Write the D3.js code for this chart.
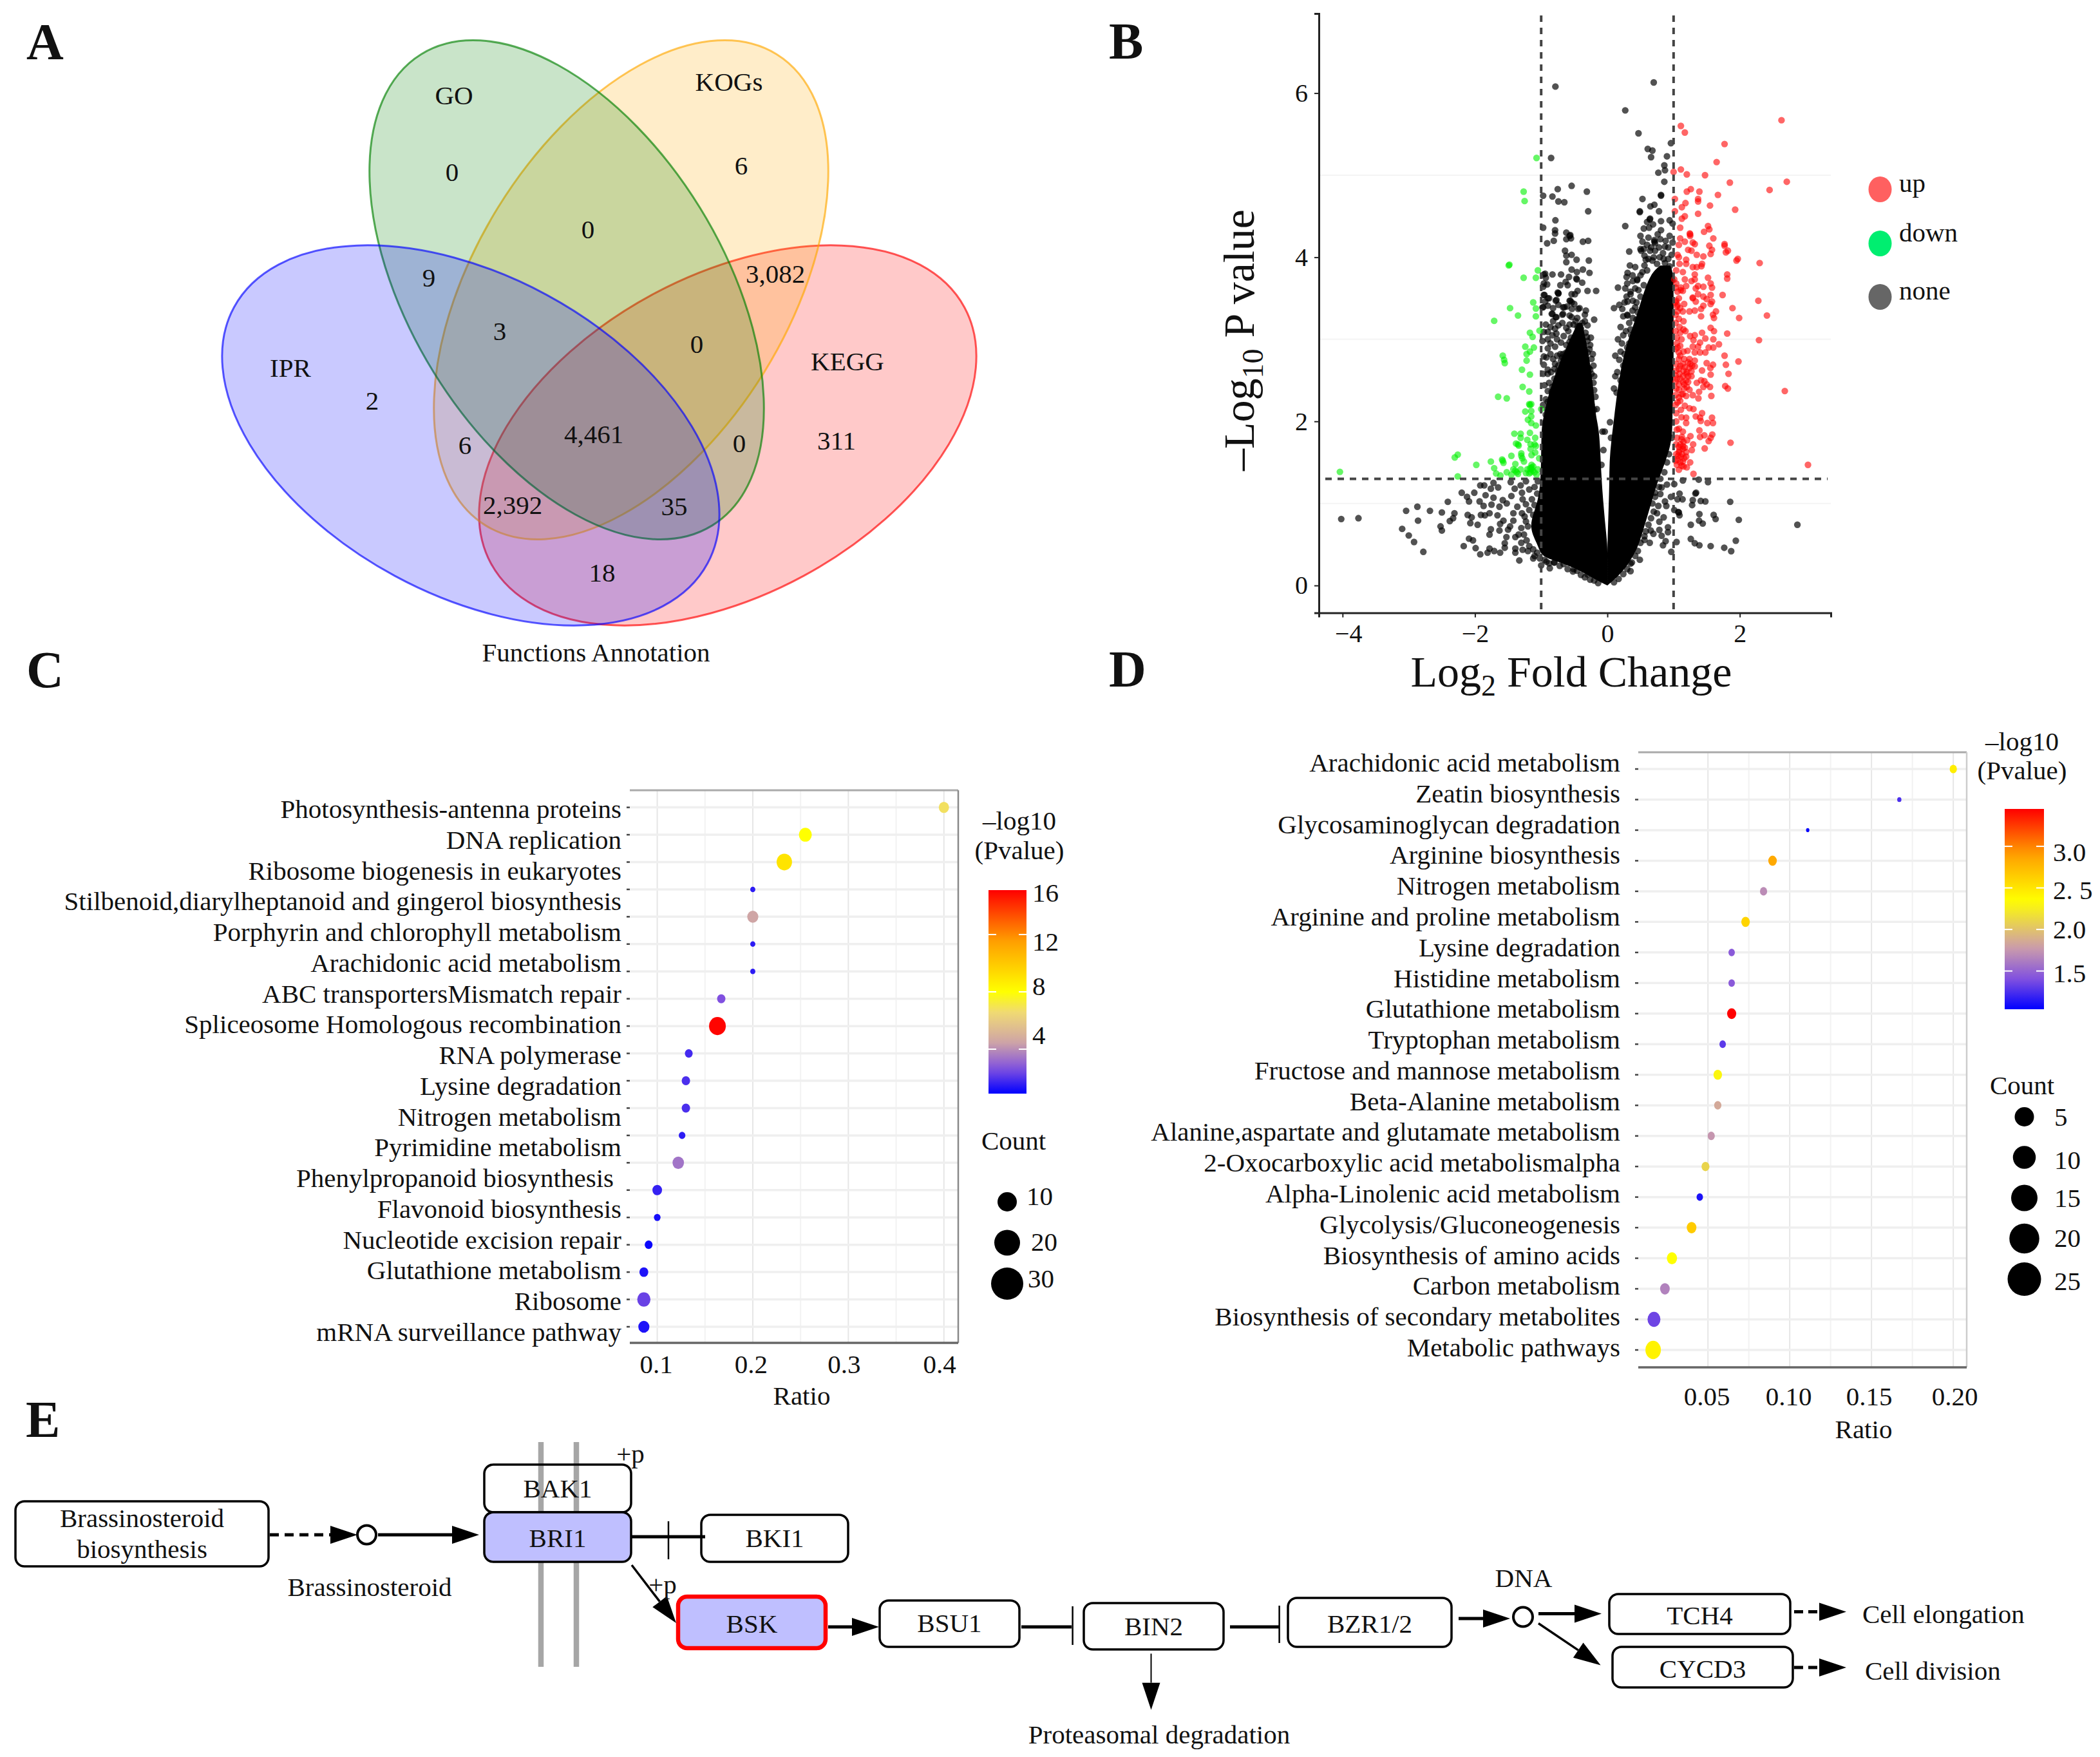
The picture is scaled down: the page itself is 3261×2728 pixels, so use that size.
<!DOCTYPE html>
<html><head><meta charset="utf-8">
<script src="https://cdn.jsdelivr.net/npm/d3@7"></script>
<style>html,body{margin:0;padding:0;background:#fff}svg{display:block}text{font-family:"Liberation Serif",serif;fill:#111}</style>
</head><body><svg id="c" width="3261" height="2728"></svg>
<script>
// ---------- Panel A data
const vennSets = ["KEGG","KOGs","GO","IPR"];
const vennCounts = ["0","6","0","3,082","9","3","0","2","6","4,461","0","311","2,392","35","18"];
// ---------- Panel B data: [log2FC, -log10P]
const volcanoNone = [[-.785,6.08],[.70,6.13],[.27,5.79],[.47,5.51],[.96,5.39],[.61,5.32],[.68,5.30],[.66,5.22],[.90,5.23],[-.85,5.21],[.86,5.12],[.87,5.06],[.77,5.03],[.86,4.92],[-.54,4.87],[-.75,4.83],[-.31,4.80],[-.97,4.75],[-.83,4.74],[-.74,4.68],[-.65,4.67],[-.29,4.56],[-.785,4.45],[.81,4.76],[.81,4.75],[.53,4.71],[.71,4.64],[.65,4.62],[.49,4.56],[.49,4.55],[.78,4.56],[.27,4.38],[-.97,4.36],[-.79,4.33],[-.79,4.29],[-.62,4.30],[-.57,4.26],[-.56,4.27],[-.62,4.22],[-.55,4.23],[-.81,4.20],[-.91,4.17],[-.37,4.19],[-.29,4.20],[-.64,4.08],[-.54,4.03],[-.62,4.02],[-.465,3.97],[-.28,3.96],[-.62,3.94],[-.54,3.85],[-.37,3.85],[-.46,3.82],[-.27,3.81],[-.94,3.80],[-.83,3.79],[-.70,3.79],[-.58,3.76],[-.93,3.75],[-.46,3.73],[-.47,3.74],[-.38,3.69],[-.91,3.67],[-.71,3.66],[-.60,3.66],[-.63,3.70],[-.97,3.64],[-.30,3.59],[-.17,3.59],[-.45,3.59],[-.75,3.57],[-.74,3.56],[-.95,3.54],[-.54,3.55],[-.88,3.50],[-.78,3.47],[-.57,3.47],[-.94,3.46],[-.54,3.45],[-.97,3.39],[-.65,3.39],[-.42,3.38],[-.325,3.35],[-.535,3.37],[-.84,3.31],[-.68,3.30],[-.57,3.29],[-.34,3.30],[-.78,3.27],[-.20,3.24],[-.455,3.26],
[.645,4.47],[.64,4.46],[.60,4.43],[.69,4.40],[.81,4.44],[.94,4.45],[.985,4.41],[.55,4.35],[.63,4.36],[.81,4.33],[.50,4.26],[.94,4.26],[.71,4.19],[.72,4.17],[.71,4.21],[.985,4.18],[.53,4.19],[.50,4.10],[.51,4.08],[.33,4.07],[.87,4.13],[.645,4.08],[.84,4.05],[.56,4.02],[.68,3.96],[.79,4.00],[.58,3.97],[.97,4.03],[.34,3.90],[.42,3.88],[.87,3.93],[.94,3.89],[.305,3.81],[.29,3.76],[.385,3.71],[.45,3.73],[.53,3.82],[.16,3.63],[.27,3.62],[.35,3.58],[.29,3.52],[.305,3.46],[.385,3.47],[.42,3.39],[.18,3.42],[.10,3.38],[.225,3.37],[.305,3.29],[.385,3.26],[.47,3.60],[.44,3.45],[.46,3.33],
[-.96,3.79],[-.96,3.68],[-.96,3.54],[-.90,3.50],[-.98,3.39],[-.74,3.56],[-.77,3.48],[-.83,3.31],[-.67,3.31],[-.54,3.27],[-.77,3.27],[-.82,3.22],[-.67,3.39],[-.56,3.47],[-.49,3.55],[-.96,3.09],[-.90,3.09],[-.79,3.13],[-.77,3.07],[-.83,3.05],[-.90,3.0],[-.90,2.89],[-.79,2.91],[-.62,2.93],[-.57,2.97],[-.59,3.10],[-.57,3.18],[-.96,2.79],[-.96,2.69],[-.90,2.63],[-.90,2.58],[-.79,2.70],[-.75,2.61],[-.80,2.52],[-.67,2.82],[-.59,2.75],[-.53,2.69],[-.67,2.71],[-.62,2.58],[-.705,2.48],[-.53,2.51],[-.83,2.42],[-.90,2.37],[-.80,2.32],[-.66,2.40],[-.56,2.44],[-.93,2.27],[-.83,2.21],[-.74,2.25],[-.61,2.29],[-.48,2.32],[-.91,2.14],[-.80,2.08],[-.67,2.16],[-.56,2.20],[-.46,2.12],[-.93,2.08],[-.74,1.98],[-.61,2.03],[-.51,1.98],
[-.71,2.82],[-.68,2.78],[-.65,2.76],[-.70,2.74],[-.66,2.66],[-.62,2.70],[-.58,2.62],[-.74,2.68],
[-.45,3.15],[-.38,3.20],[-.30,3.17],[-.42,3.05],[-.33,3.08],[-.48,2.98],[-.40,2.95],[-.30,2.98],[-.25,3.02],[-.45,2.86],[-.36,2.86],[-.27,2.88],[-.50,2.78],[-.41,2.76],[-.33,2.78],[-.24,2.76],[-.46,2.66],[-.37,2.67],[-.28,2.65],[-.21,2.68],[-.50,2.57],[-.42,2.58],[-.33,2.56],[-.24,2.58],[-.47,2.47],[-.39,2.48],[-.30,2.46],[-.21,2.47],[-.18,2.30],[-.16,2.15],
[-.90,3.41],[-.82,3.38],[-.74,3.42],[-.61,3.40],[-.50,3.43],[-.44,3.37],[-.93,3.18],[-.86,3.15],[-.74,3.17],[-.68,3.2],[-.62,3.14],[-.51,3.18],[-.48,3.22],[-.40,3.13],[-.34,3.22],[-.98,2.98],[-.86,2.95],[-.76,3.0],[-.7,2.96],[-.66,3.04],[-.55,3.02],[-.52,2.92],[-.44,2.99],[-.36,2.94],[-.31,3.03],[-.26,2.93],[-.92,2.78],[-.86,2.82],[-.82,2.76],[-.76,2.8],[-.62,2.84],[-.55,2.8],[-.5,2.86],[-.47,2.74],[-.39,2.82],[-.35,2.72],[-.3,2.84],[-.22,2.82],[-.97,2.58],[-.85,2.6],[-.8,2.64],[-.7,2.58],[-.66,2.54],[-.61,2.64],[-.55,2.58],[-.5,2.64],[-.44,2.54],[-.4,2.62],[-.35,2.6],[-.29,2.56],[-.26,2.63],[-.2,2.55],[-.95,2.44],[-.88,2.47],[-.84,2.36],[-.76,2.4],[-.72,2.34],[-.63,2.46],[-.6,2.34],[-.52,2.38],[-.48,2.44],[-.44,2.34],[-.36,2.38],[-.32,2.34],[-.26,2.38],[-.2,2.38],[-.97,2.2],[-.9,2.24],[-.86,2.12],[-.76,2.14],[-.7,2.22],[-.64,2.1],[-.58,2.14],[-.52,2.24],[-.48,2.18],[-.42,2.26],[-.36,2.2],[-.3,2.26],[-.24,2.2],[-.2,2.14],[-.95,1.98],[-.88,2.02],[-.82,1.95],[-.7,2.05],
[-1.05,1.27],[-1.1,1.2],[-1.06,1.12],[-1.14,1.05],[-1.1,.98],[-1.18,.92],[-1.12,.86],[-1.25,.84],[-1.2,.72],[-1.3,.7],[-1.26,.62],[-1.22,.55],[-1.18,.48],[-1.12,.44],[-1.06,.4],[-1.1,.36],[-1.02,.33],[-.95,.31],[-.88,.27],[-.8,.28],[-.72,.24],[-.66,.26],[-.6,.2],[-.52,.17],[-.46,.18],[-.4,.13],[-.34,.1],[-.26,.07],[-.2,.06],[-.14,.03],
[.97,1.8],[.93,1.6],[.9,1.5],[.86,1.38],[.8,1.3],[.78,1.2],[.72,1.08],[.68,1.0],[.7,.9],[.66,.82],[.62,.74],[.58,.66],[.56,.6],[.5,.52],[.46,.42],[.42,.36],[.37,.28],[.3,.2],[.24,.14],[.17,.08],[.1,.04],
[.14,2.35],[.2,2.5],[.25,2.55],[.12,2.55],[.2,2.85],[.28,2.72],[.33,2.95],[.24,3.05],[.35,3.12],[.3,3.3],[.38,3.35],[.24,3.28],[.26,3.45],[.35,3.55],[.42,3.62],[.3,3.68],[.45,3.72],[.5,3.78],[.38,3.78],[.56,3.9],[.62,3.98],[.7,4.0],[.75,3.92],[.85,3.98],[.92,4.12],[.88,4.2],[.8,4.22],[.76,4.28],[.62,4.24],[.6,4.15],[.66,4.12],[.72,4.08],[.78,4.12],[.55,4.1],[.92,3.98],
[-.135,1.30],[-4.02,.81],[-3.76,.82],[-3.04,.91],[-2.87,.96],[-2.68,.91],[-2.5,.89],[-2.41,1.02],[-2.31,.88],[-2.33,.82],[-2.38,.785],[-2.86,.79],[-3.10,.69],[-3.0,.61],[-2.92,.53],[-2.78,.41],[-2.52,.72],[-2.50,.67],[-2.2,1.13],[-2.12,1.08],[-2.09,1.025],[-2.01,1.13],[-1.93,1.025],[-1.87,.97],[-1.84,1.10],[-1.72,1.07],[-1.75,.985],[-1.63,.96],[-1.92,1.22],[-1.86,1.22],[-1.76,1.18],[-1.72,1.25],[-1.65,1.195],[-1.46,1.26],[-2.11,.86],[-2.05,.83],[-2.07,.76],[-1.96,.74],[-1.91,.86],[-1.85,.855],[-1.78,.88],[-1.66,.855],[-1.76,.685],[-1.78,.62],[-1.62,.75],[-1.63,.67],[-1.525,.59],[-2.09,.57],[-2.03,.55],[-2.17,.48],[-1.99,.455],[-1.92,.38],[-1.81,.40],[-1.78,.45],[-1.71,.42],[-1.62,.40],[-1.55,.515],[-1.55,.46],[-1.39,.45],[-1.39,.40],[-1.33,.305],[-1.28,.435],[-1.58,1.04],[-1.52,1.0],[-1.45,1.09],[-1.40,1.18],[-1.31,1.22],[-1.29,1.13],[-1.36,.96],[-1.28,1.05],[-1.42,.88],[-1.57,.79],[-1.42,.79],[-1.29,.88],[-1.23,.99],[-1.39,.59],[-1.23,.78],[-1.0,.245],[-.87,.21],[-.92,.29],[-.51,.20],[-.30,.135],[-.805,.28],[-1.5,.68],[-1.47,.72],[-1.34,.62],[-1.3,.52],[-1.2,.42],[-1.12,.33],[-1.23,1.27],[-1.18,1.17],
[1.14,1.28],[1.38,1.29],[1.52,1.26],[1.01,1.235],[.90,1.23],[.82,1.195],[1.33,1.12],[1.34,1.13],[1.09,1.12],[1.06,1.05],[1.135,1.05],[1.29,1.04],[1.41,1.03],[1.48,1.025],[1.855,1.02],[1.28,.98],[.89,.97],[.77,.97],[.87,1.025],[.96,1.08],[1.01,.92],[1.07,.895],[1.08,.89],[1.09,.855],[1.39,.87],[1.605,.86],[1.635,.81],[1.985,.80],[1.385,.79],[1.44,.755],[1.26,.74],[2.87,.74],[.75,.88],[.85,.83],[.785,.777],[.785,.677],[.915,.71],[.915,.65],[.82,.606],[.88,.54],[1.045,.53],[1.26,.567],[1.32,.515],[1.39,.49],[1.56,.48],[1.765,.46],[1.94,.546],[1.87,.418],[.84,.49],[.965,.41],[.64,.52],[.56,.555],[.695,.63],[.49,.313],[.35,.175],[.35,.266],[.72,1.13],[.80,1.115],[.655,.67],[.055,1.80],[-.04,1.875],[.04,1.99],[-.075,1.875],[-.06,1.65],[-.09,1.47],
[.20,3.15],[.28,3.10],[.16,3.0],[.22,2.95],[.30,2.90],[.12,2.80],[.18,2.75],[.15,2.60],[.10,2.40],[.33,3.20],[.36,3.05],[.26,2.82],[.24,2.68],[.98,3.72],[.92,3.75],[.88,3.80],[.60,3.84],[.55,3.66],[.50,3.52],[.44,3.24]];
const volcanoUp = [[1.11,5.60],[1.17,5.52],[2.63,5.67],[1.77,5.38],[1.65,5.16],[1.11,5.07],[1.0,5.04],[1.2,5.01],[1.475,5.0],[1.85,4.91],[2.71,4.92],[2.45,4.82],[1.26,4.83],[1.2,4.80],[1.39,4.80],[1.67,4.76],[1.02,4.71],[1.37,4.71],[1.37,4.68],[1.18,4.66],[1.125,4.61],[1.55,4.63],[1.93,4.58],[1.02,4.56],[1.37,4.53],[1.17,4.50],[1.125,4.47],[1.10,4.36],[1.52,4.38],[1.54,4.34],[1.46,4.31],[1.245,4.29],[1.25,4.28],[1.25,4.26],[1.10,4.23],[1.60,4.23],[1.17,4.19],[1.32,4.16],[1.77,4.16],[1.08,4.15],[1.54,4.14],[1.77,4.14],[1.29,4.18],[1.58,4.09],[1.22,4.09],[1.82,4.08],[1.79,4.06],[1.27,4.08],[1.35,4.03],[1.56,4.04],[1.06,4.03],[1.45,4.01],[1.97,3.98],[1.95,3.96],[2.30,3.93],[1.19,3.97],[1.08,4.0],[1.43,3.92],[1.09,3.92],[1.19,3.92],[1.29,3.88],[1.35,3.88],[1.42,3.89],[1.14,3.82],[1.04,3.84],[1.81,3.79],[1.81,3.74],[1.52,3.75],[1.32,3.79],[1.17,3.73],[1.32,3.73],[1.01,3.73],[1.04,3.68],[1.56,3.68],[1.58,3.63],[1.37,3.65],[1.27,3.71],[1.45,3.64],[1.19,3.65],[1.11,3.63],[1.335,3.62],[1.03,3.63],[1.06,3.58],[1.14,3.59],[1.37,3.55],[1.29,3.51],[1.74,3.54],[1.56,3.54],[1.45,3.52],[1.50,3.49],[2.28,3.47],[1.04,3.47],[1.58,3.46],
[1.89,3.38],[1.99,3.26],[2.41,3.29],[1.56,3.43],[1.64,3.34],[1.595,3.30],[1.61,3.26],[1.415,3.28],[1.415,3.37],[1.32,3.35],[1.45,3.41],[1.335,3.46],[1.29,3.50],[1.24,3.34],[1.14,3.34],[1.06,3.42],[1.16,3.43],[1.06,3.34],[1.08,3.50],[1.11,3.60],[1.56,3.14],[1.61,3.10],[1.81,3.07],[2.29,2.99],[1.43,3.08],[1.32,3.05],[1.25,3.04],[1.48,3.01],[1.60,3.0],[1.685,2.94],[1.40,2.96],[1.30,2.99],[1.53,2.90],[1.60,2.90],[1.37,2.91],[1.29,2.91],[1.77,2.80],[1.98,2.73],[1.40,2.84],[1.48,2.84],[1.32,2.84],[1.21,2.86],[1.08,2.84],[1.79,2.69],[1.50,2.71],[1.595,2.69],[1.24,2.76],[1.32,2.74],[1.16,2.76],[1.08,2.76],[1.556,2.65],[1.43,2.62],[1.32,2.67],[1.24,2.65],[1.17,2.66],[1.56,2.57],[1.83,2.58],[1.27,2.61],[1.19,2.58],[1.09,2.58],[1.03,2.56],[1.465,2.49],[1.415,2.50],[1.35,2.47],[1.50,2.45],[1.45,2.42],[1.55,2.42],[1.78,2.43],[1.82,2.40],[2.68,2.37],[1.19,2.50],[1.14,2.48],[1.08,2.45],[1.16,2.40],[1.08,2.385],[1.24,2.385],[1.385,2.36],[1.57,2.31],[1.29,2.32],[1.19,2.31],[1.375,2.28],[1.08,2.29],[1.06,2.23],[1.14,2.33],[1.24,2.16],[1.17,2.19],[1.30,2.15],[1.11,2.14],[1.43,2.10],[1.335,2.06],[1.40,2.045],[1.19,2.045],[1.58,2.045],[1.41,2.005],[1.595,1.98],[1.51,1.98],[1.19,1.98],[1.08,1.91],[1.39,1.89],[1.14,1.875],[1.125,1.81],[1.255,1.82],[1.40,1.81],[1.465,1.83],[1.585,1.84],[1.56,1.80],[1.53,1.76],[1.205,1.77],[1.86,1.74],[1.295,1.72],[1.275,1.65],[1.47,1.67],[1.08,1.69],[1.14,1.665],[1.08,1.625],[1.19,1.625],[1.11,1.57],[1.19,1.57],[1.06,1.535],[1.14,1.51],[1.25,1.50],[1.20,1.44],[3.03,1.47],[1.08,1.41],[1.30,1.36],
[1.03,3.45],[1.05,3.40],[1.10,3.38],[1.03,3.30],[1.08,3.25],[1.15,3.22],[1.03,3.20],[1.09,3.15],[1.15,3.12],[1.03,3.10],[1.10,3.08],[1.18,3.10],[1.05,3.02],[1.12,3.0],[1.05,2.95],[1.10,2.92],[1.03,2.88],[1.15,2.85],[1.04,2.70],[1.10,2.68],[1.15,2.62],[1.22,2.72],[1.04,2.62],[1.10,2.52],[1.03,2.48],[1.22,2.55],[1.14,2.55],[1.04,2.40],[1.12,2.33],[1.03,2.32],[1.03,2.20],[1.10,2.25],[1.05,1.80],[1.10,1.72],[1.04,1.72],[1.15,1.75],[1.04,1.60],[1.13,1.60],[1.10,1.50],[1.05,1.47],[1.15,1.45],[1.03,1.52],[1.14,1.70],[1.04,2.1],[1.04,2.0],[1.12,2.05],[1.05,1.9],[1.12,1.78],[1.17,1.68],[1.09,1.65],[1.16,1.55],[1.07,1.58],[1.12,1.46],[1.2,2.6],[1.14,2.7],[1.08,2.64],[1.16,2.45],[1.05,2.52],[1.2,2.42],[1.22,2.48],[1.27,2.55],[1.1,2.8],[1.06,2.9],[1.25,2.7],[1.28,2.68]];
const volcanoDown = [[-1.07,5.21],[-1.265,4.80],[-1.25,4.685],[-1.48,3.91],[-1.49,3.90],[-1.05,3.84],[-1.265,3.75],[-1.08,3.75],[-1.12,3.45],[-1.47,3.38],[-1.08,3.375],[-1.35,3.29],[-1.08,3.28],[-1.71,3.225],[-1.025,3.105],[-1.17,3.08],[-1.13,3.03],[-1.24,2.91],[-1.11,2.90],[-1.17,2.85],[-1.22,2.82],[-1.58,2.80],[-1.56,2.75],[-1.55,2.71],[-1.22,2.74],[-1.29,2.63],[-1.17,2.57],[-1.28,2.42],[-1.18,2.365],[-1.65,2.30],[-1.52,2.28],[-1.18,2.21],[-1.15,2.21],[-1.17,2.20],[-1.0,2.15],[-1.24,2.12],[-1.15,2.125],[-1.15,2.06],[-1.2,2.02],[-1.15,1.98],[-1.08,1.95],[-1.405,1.85],[-1.31,1.85],[-1.17,1.86],[-1.09,1.80],[-1.31,1.80],[-1.21,1.775],[-1.38,1.73],[-1.34,1.705],[-1.16,1.72],[-1.08,1.70],[-1.16,1.665],[-1.45,1.58],[-1.30,1.61],[-1.285,1.55],[-1.145,1.59],[-1.03,1.55],[-2.26,1.595],[-2.305,1.56],[-1.59,1.535],[-1.57,1.495],[-1.58,1.52],[-1.76,1.51],[-1.98,1.47],[-1.26,1.51],[-1.39,1.48],[-1.145,1.47],[-4.04,1.385],[-1.71,1.43],[-1.68,1.365],[-1.52,1.38],[-1.42,1.415],[-1.37,1.38],[-1.31,1.415],[-1.21,1.415],[-1.145,1.44],[-1.10,1.38],[-1.18,1.365],[-1.45,1.35],[-2.26,1.33],[-1.615,1.34],[-1.05,1.415],[-1.07,1.35],[-1.15,1.42],[-1.13,1.40],[-1.39,1.40],[-1.35,1.36],[-1.23,1.37],[-1.16,1.38],[-1.12,1.45],[-1.17,1.43],[-1.3,1.58],[-1.35,1.72],[-1.1,1.72],[-1.09,1.62]];
// dense overplotted bands of the volcano, read as edges at given -log10P levels
const leftBandY   = [0,   .1,  .2,  .3,  .35, .5,   .72,  1.0,  1.3,  1.9,  2.03, 2.3, 2.6, 2.9, 3.2];
const leftBandOut = [.0,-.25,-.45,-.77,-1.0,-1.05,-1.2,-1.05,-1.0,-1.0, -.97, -.9, -.78, -.62, -.45];
const leftBandIn  = [.0, .0,  .0,  .0,  .0,  .0,  -.03, -.06,-.09,-.12, -.17, -.2, -.24, -.3, -.38];
const rightBandY  = [0,  .07, .2,  .33, .46, .72, .98, 1.25,1.51,1.77,2.03,2.5, 2.9, 3.25,3.5, 3.8, 3.9];
const rightBandOut= [.0,.104,.266,.364,.46,.558,.655,.75, .88, .98, .98, 1.0, 1.0, 1.0, 1.0, 1.0, .95];
const rightBandIn = [.0, .0,  .0,  .0, .0,  .01, .02, .03, .03, .06, .10, .17, .27, .43, .52, .65, .8];
const volcanoXTicks=[-4,-2,0,2], volcanoYTicks=[0,2,4,6];
const volcanoLegend=["up","down","none"];
// ---------- Panel C data
const cLabels=["Photosynthesis-antenna proteins","DNA replication","Ribosome biogenesis in eukaryotes","Stilbenoid,diarylheptanoid and gingerol biosynthesis","Porphyrin and chlorophyll metabolism","Arachidonic acid metabolism","ABC transportersMismatch repair","Spliceosome Homologous recombination","RNA polymerase","Lysine degradation","Nitrogen metabolism","Pyrimidine metabolism","Phenylpropanoid biosynthesis","Flavonoid biosynthesis","Nucleotide excision repair","Glutathione metabolism","Ribosome","mRNA surveillance pathway"];
const cRatio=[.40,.255,.233,.2,.2,.2,.2,.167,.163,.133,.13,.13,.126,.122,.10,.10,.091,.086,.086,.086];
const cPval=[6.8,8,9,1.5,4.5,1.5,1.5,2.6,15,1.8,1.9,1.9,1.5,3.4,1.6,1.2,1.05,1.3,2.3,1.3];
const cCount=[12,19,27,3,14,3,3,8,32,7,8,8,5,15,10.6,5,7,9,20,14];
const cTicks=[.1,.2,.3,.4], cMinor=[.15,.25,.35], cBarTicks=[16,12,8,4], cSizeTicks=[10,20,30];
// ---------- Panel D data
const dLabels=["Arachidonic acid metabolism","Zeatin biosynthesis","Glycosaminoglycan degradation","Arginine biosynthesis","Nitrogen metabolism","Arginine and proline metabolism","Lysine degradation","Histidine metabolism","Glutathione metabolism","Tryptophan metabolism","Fructose and mannose metabolism","Beta-Alanine metabolism","Alanine,aspartate and glutamate metabolism","2-Oxocarboxylic acid metabolismalpha","Alpha-Linolenic acid metabolism","Glycolysis/Gluconeogenesis","Biosynthesis of amino acids","Carbon metabolism","Biosynthesis of secondary metabolites","Metabolic pathways"];
const dRatio=[.20,.167,.111,.0895,.084,.073,.0645,.0645,.0645,.059,.056,.056,.052,.0485,.045,.04,.028,.0237,.017,.0165];
const dPval=[2.45,1.25,1.06,2.85,1.7,2.6,1.45,1.45,3.45,1.3,2.3,1.85,1.75,2.1,1.12,2.65,2.35,1.65,1.35,2.42];
const dCount=[5,1.7,1.1,7,5,7,4,4,8,4,7,5,5,6,4,9,10,9,16,23];
const dTicks=[.05,.10,.15,.20], dMinor=[.075,.125,.175], dBarTicks=[3.0,2.5,2.0,1.5], dBarLabels=["3.0","2. 5","2.0","1.5"], dSizeTicks=[5,10,15,20,25];
// ---------- Panel E data
const pathNodes=["Brassinosteroid biosynthesis","BAK1","BRI1","BKI1","BSK","BSU1","BIN2","BZR1/2","TCH4","CYCD3"];
const pathNotes=["Brassinosteroid","+p","+p","DNA","Cell elongation","Cell division","Proteasomal degradation"];

const FS=41;
const svg=d3.select("#c");
svg.append("rect").attr("width",3261).attr("height",2728).attr("fill","#fff");
const txt=(g,x,y,s,size=FS,anchor="middle",extra={})=>{const t=g.append("text").attr("x",x).attr("y",y).attr("font-size",size).attr("text-anchor",anchor).attr("dominant-baseline","central").text(s);for(const k in extra)t.attr(k,extra[k]);return t;};

// panel letters
[["A",41,92],["B",1722,91],["C",41,1067],["D",1722,1066],["E",40,2231]].forEach(([s,x,y])=>svg.append("text").attr("x",x).attr("y",y).attr("font-size",80).attr("font-weight","bold").attr("fill","#000").text(s));

// ===== Panel A
const A=svg.append("g");
const vennGeo={IPR:[731,676,418,248,28.4,"#0000ff"],GO:[880,450,430,243,58.3,"#008000"],KOGs:[980,450,430,243,-58.3,"#ffa800"],KEGG:[1130,676,418,248,-28.4,"#ff0000"]};
A.selectAll("ellipse").data(vennSets).join("ellipse")
 .attr("rx",d=>vennGeo[d][2]).attr("ry",d=>vennGeo[d][3])
 .attr("transform",d=>`translate(${vennGeo[d][0]},${vennGeo[d][1]}) rotate(${vennGeo[d][4]})`)
 .attr("fill",d=>vennGeo[d][5]).attr("fill-opacity",.21).attr("stroke",d=>vennGeo[d][5]).attr("stroke-opacity",.65).attr("stroke-width",3);
const setLabelPos={GO:[705,148],KOGs:[1132,127],IPR:[451,571],KEGG:[1316,561]};
vennSets.forEach(s=>txt(A,setLabelPos[s][0],setLabelPos[s][1],s));
const countPos=[[702,267],[1151,257],[913,356],[1204,425],[666,431],[776,514],[1082,534],[578,622],[722,691],[922,674],[1148,688],[1299,684],[796,784],[1047,786],[935,889]];
vennCounts.forEach((c,i)=>txt(A,countPos[i][0],countPos[i][1],c));
txt(A,925.5,1013,"Functions Annotation");

// ===== Panel B
const B=svg.append("g");
const bx=d3.scaleLinear().domain([-4.358,3.375]).range([2048,2843]);
const by=d3.scaleLinear().domain([-.334,6.97]).range([951.6,21]);
[1,3,5].forEach(v=>B.append("line").attr("x1",2050).attr("x2",2843).attr("y1",by(v)).attr("y2",by(v)).attr("stroke","#f4f4f4").attr("stroke-width",2));
const bandArea=d3.area().curve(d3.curveBasis).y(d=>by(d[0])).x0(d=>bx(d[1])).x1(d=>bx(d[2]));
B.append("path").datum(leftBandY.map((y,i)=>[y,leftBandOut[i],leftBandIn[i]])).attr("d",bandArea).attr("fill","#000");
B.append("path").datum(rightBandY.map((y,i)=>[y,rightBandOut[i],rightBandIn[i]])).attr("d",bandArea).attr("fill","#000");
const pts=(data,col,op)=>B.append("g").selectAll("circle").data(data).join("circle").attr("cx",d=>bx(d[0])).attr("cy",d=>by(d[1])).attr("r",5.2).attr("fill",col).attr("fill-opacity",op);
pts(volcanoNone,"#000",.68);
pts(volcanoDown,"#00f000",.6);
pts(volcanoUp,"#ff0000",.6);
const dash={stroke:"#444","stroke-width":4,"stroke-dasharray":"10 9"};
const bl=(x1,y1,x2,y2)=>{const l=B.append("line").attr("x1",x1).attr("y1",y1).attr("x2",x2).attr("y2",y2);for(const k in dash)l.attr(k,dash[k]);};
bl(bx(-1),24,bx(-1),951);bl(bx(1),24,bx(1),951);bl(2058,by(1.3),2838,by(1.3));
const bxAxis=B.append("g").attr("transform","translate(0,951.6)").call(d3.axisBottom(bx).tickValues(volcanoXTicks).tickSize(7).tickPadding(10).tickFormat(d=>d<0?"\u2212"+(-d):d));
const byAxis=B.append("g").attr("transform","translate(2048,0)").call(d3.axisLeft(by).tickValues(volcanoYTicks).tickSize(7).tickPadding(10));
[bxAxis,byAxis].forEach(a=>{a.selectAll("path").attr("stroke","#222").attr("stroke-width",3);a.selectAll("line").attr("stroke","#222").attr("stroke-width",2);a.selectAll("text").attr("font-family","Liberation Serif").attr("font-size",40).attr("fill","#222");});
bxAxis.selectAll("text").attr("dx",d=>d===-4?9:0);
const xT=B.append("text").attr("x",2440).attr("y",1066).attr("font-size",68).attr("text-anchor","middle");
xT.append("tspan").text("Log");xT.append("tspan").attr("dy",14).attr("font-size",46).text("2");xT.append("tspan").attr("dy",-14).text(" Fold Change");
const yT=B.append("text").attr("transform","translate(1947,528) rotate(-90)").attr("font-size",68).attr("text-anchor","middle");
yT.append("tspan").text("\u2013Log");yT.append("tspan").attr("dy",14).attr("font-size",46).text("10");yT.append("tspan").attr("dy",-14).text(" P value");
const bLegCol=["#ff6060","#00ee70","#666"],bLegY=[294,378,461],bLegTy=[284,361,451];
volcanoLegend.forEach((s,i)=>{B.append("ellipse").attr("cx",2919.5).attr("cy",bLegY[i]).attr("rx",18).attr("ry",20).attr("fill",bLegCol[i]);txt(B,2949,bLegTy[i],s,FS,"start");});

// ===== bubble helper
function bubble(cfg){
 const g=svg.append("g");
 const x=d3.scaleLinear().domain(cfg.xDom).range([cfg.L,cfg.R]);
 const y=d3.scalePoint().domain(d3.range(cfg.ratio.length)).range(cfg.rowRange);
 const col=d3.scaleLinear().domain(cfg.colDom).range(cfg.colRange).clamp(true);
 const r=d3.scaleSqrt().domain([0,cfg.maxCount]).range([0,cfg.maxR]);
 cfg.minor.forEach(v=>g.append("line").attr("x1",x(v)).attr("x2",x(v)).attr("y1",cfg.T).attr("y2",cfg.B).attr("stroke","#f2f2f2").attr("stroke-width",2));
 cfg.ticks.forEach(v=>g.append("line").attr("x1",x(v)).attr("x2",x(v)).attr("y1",cfg.T).attr("y2",cfg.B).attr("stroke","#e6e6e6").attr("stroke-width",2));
 cfg.ratio.forEach((_,i)=>{g.append("line").attr("x1",cfg.L).attr("x2",cfg.R).attr("y1",y(i)).attr("y2",y(i)).attr("stroke","#efefef").attr("stroke-width",3.5);
   g.append("line").attr("x1",cfg.L-5).attr("x2",cfg.L).attr("y1",y(i)).attr("y2",y(i)).attr("stroke","#444").attr("stroke-width",2.5);});
 g.append("line").attr("x1",cfg.L).attr("x2",cfg.R).attr("y1",cfg.T).attr("y2",cfg.T).attr("stroke","#aaa").attr("stroke-width",3);
 g.append("line").attr("x1",cfg.R).attr("x2",cfg.R).attr("y1",cfg.T).attr("y2",cfg.B).attr("stroke",cfg.rightCol).attr("stroke-width",2.5);
 g.selectAll("ellipse.dot").data(cfg.ratio).join("ellipse").attr("class","dot").attr("cx",d=>x(d)).attr("cy",(d,i)=>y(i))
  .attr("rx",(d,i)=>r(cfg.count[i])).attr("ry",(d,i)=>r(cfg.count[i])*cfg.yStretch).attr("fill",(d,i)=>col(cfg.pval[i]));
 const ax=g.append("g").attr("transform",`translate(0,${cfg.B})`).call(d3.axisBottom(x).tickValues(cfg.ticks).tickSize(0).tickPadding(cfg.pad).tickFormat(cfg.fmt));
 ax.selectAll("path").attr("d",`M${cfg.L},0H${cfg.R}`).attr("stroke","#666").attr("stroke-width",3.5);
 ax.selectAll("text").attr("font-family","Liberation Serif").attr("font-size",FS).attr("fill","#111").attr("dx",(d,i)=>cfg.tickDx[i]);
 txt(g,cfg.xTitle[0],cfg.xTitle[1],"Ratio");
 const ly=d3.scalePoint().domain(d3.range(cfg.labels.length)).range(cfg.labelRange);
 cfg.labels.forEach((s,i)=>txt(g,cfg.labelX-(cfg.nudge[s]||0),ly(i),s,FS,"end"));
 // colour bar
 const id="grad"+cfg.L;const lg=svg.append("defs").append("linearGradient").attr("id",id).attr("x1",0).attr("x2",0).attr("y1",1).attr("y2",0);
 const by2=d3.scaleLinear().domain(cfg.barDom).range([cfg.bar.B,cfg.bar.T]);
 d3.range(0,1.0001,.05).forEach(t=>{const v=cfg.barDom[0]+t*(cfg.barDom[1]-cfg.barDom[0]);lg.append("stop").attr("offset",t).attr("stop-color",col(v));});
 g.append("rect").attr("x",cfg.bar.L).attr("y",cfg.bar.T).attr("width",cfg.bar.R-cfg.bar.L).attr("height",cfg.bar.B-cfg.bar.T).attr("fill",`url(#${id})`);
 cfg.barTicks.forEach((v,i)=>{const yy=by2(v);
   if(yy>cfg.bar.T+4){g.append("line").attr("x1",cfg.bar.L).attr("x2",cfg.bar.L+12).attr("y1",yy).attr("y2",yy).attr("stroke","#fff").attr("stroke-width",2);
   g.append("line").attr("x1",cfg.bar.R-12).attr("x2",cfg.bar.R).attr("y1",yy).attr("y2",yy).attr("stroke","#fff").attr("stroke-width",2);}
   txt(g,cfg.barLabelX,cfg.barLabelY[i],cfg.barLabels[i],FS,"start");});
 txt(g,cfg.legX,cfg.legT[0],"\u2013log10");txt(g,cfg.legX,cfg.legT[1],"(Pvalue)");
 txt(g,cfg.cntTitle[0],cfg.cntTitle[1],"Count");
 const lr=d3.scaleLinear().domain(d3.extent(cfg.sizeTicks)).range(cfg.sizeR);
 const sy=d3.scalePoint().domain(cfg.sizeTicks).range(cfg.sizeYRange);
 cfg.sizeTicks.forEach((v,i)=>{g.append("circle").attr("cx",cfg.sizeX).attr("cy",sy(v)).attr("r",lr(v)).attr("fill","#000");
   txt(g,cfg.sizeLabelX[i],cfg.sizeLabelY[i],String(v),FS,"start");});
 return g;
}
bubble({L:978,R:1488,T:1227,B:2085,xDom:[.0713,.415],ratio:cRatio,pval:cPval,count:cCount,rowRange:[1253.6,2060],
 colDom:[.9,2.6,4.5,6.5,8,11.5,15.1],colRange:["#0000ff","#8050e0","#cfa5a5","#efd878","#ffff00","#ffa000","#ff0000"],maxCount:32,maxR:13,yStretch:1.08,
 minor:cMinor,ticks:cTicks,rightCol:"#888",pad:18,tickDx:[-2,-3,-7,-7],fmt:d3.format(".1f"),xTitle:[1245,2167],labels:cLabels,labelRange:[1256,2068],labelX:965,nudge:{"Phenylpropanoid biosynthesis":12},
 barDom:[.9,15.1],bar:{L:1535,R:1594,T:1382,B:1698},barTicks:cBarTicks,barLabels:cBarTicks.map(String),barLabelX:1603,barLabelY:[1386,1462,1531,1607],
 legX:1583,legT:[1274,1320],cntTitle:[1574,1771],sizeTicks:cSizeTicks,sizeR:[15,25],sizeX:1564,sizeYRange:[1866,1993],sizeLabelX:[1594,1601,1596],sizeLabelY:[1857,1928,1985]});
bubble({L:2544,R:3054,T:1168,B:2123,xDom:[.0074,.2082],ratio:dRatio,pval:dPval,count:dCount,rowRange:[1194,2096],
 colDom:[1.04,1.4,1.8,2.35,2.9,3.45],colRange:["#0000ff","#8050e0","#cfa0a8","#ffff00","#ffa000","#ff0000"],maxCount:25,maxR:12.5,yStretch:1.18,
 minor:dMinor,ticks:dTicks,rightCol:"#ccc",pad:30,tickDx:[-2,-2,-4,2],fmt:d3.format(".2f"),xTitle:[2894,2219],labels:dLabels,labelRange:[1184,2092],labelX:2516,nudge:{},
 barDom:[1.04,3.45],bar:{L:3113,R:3174,T:1256,B:1567},barTicks:dBarTicks,barLabels:dBarLabels,barLabelX:3188,barLabelY:[1323,1382,1443,1511],
 legX:3140,legT:[1151,1196],cntTitle:[3140,1685],sizeTicks:dSizeTicks,sizeR:[15,26],sizeX:3143.5,sizeYRange:[1734,1986],sizeLabelX:[3190,3190,3190,3190,3190],sizeLabelY:[1734,1801,1860,1922,1989]});

// ===== Panel E
const E=svg.append("g");
[840,895].forEach(x=>E.append("line").attr("x1",x).attr("x2",x).attr("y1",2239).attr("y2",2588).attr("stroke","#a6a6a6").attr("stroke-width",8.5));
const nodeBox={"Brassinosteroid biosynthesis":[24,417,2331,2432],BAK1:[752,980,2274,2348],BRI1:[752,980,2348,2425],BKI1:[1089,1317,2352,2425],BSK:[1053,1282,2479,2559],BSU1:[1366,1583,2485,2557],BIN2:[1683,1900,2489,2561],"BZR1/2":[2000,2254,2481,2557],TCH4:[2499,2780,2475,2537],CYCD3:[2504,2784,2557,2620]};
const nodeTextY={BAK1:2311,BRI1:2388,BKI1:2388,BSK:2521,BSU1:2520,BIN2:2525,"BZR1/2":2521,TCH4:2508,CYCD3:2591};
const filled=new Set(["BRI1","BSK"]);
pathNodes.forEach(n=>{const [l,r,t,b]=nodeBox[n];
 E.append("rect").attr("x",l).attr("y",t).attr("width",r-l).attr("height",b-t).attr("rx",14)
  .attr("fill",filled.has(n)?"#bfbfff":"none").attr("stroke",n==="BSK"?"#f00":"#000").attr("stroke-width",n==="BSK"?6.5:3.5);
 if(n.includes(" ")){const p=n.split(" ");txt(E,(l+r)/2,2357,p[0]);txt(E,(l+r)/2,2405,p[1]);}
 else txt(E,(l+r)/2,nodeTextY[n],n);});
function arrow(x1,y1,x2,y2,w=5,dashed=false,len=42,hw=14){
 const a=Math.atan2(y2-y1,x2-x1),bx0=x2-len*Math.cos(a),by0=y2-len*Math.sin(a);
 const ln=E.append("line").attr("x1",x1).attr("y1",y1).attr("x2",bx0).attr("y2",by0).attr("stroke","#000").attr("stroke-width",w);
 if(dashed)ln.attr("stroke-dasharray",dashed);
 E.append("polygon").attr("points",[[x2,y2],[bx0-hw*Math.sin(a),by0+hw*Math.cos(a)],[bx0+hw*Math.sin(a),by0-hw*Math.cos(a)]].map(p=>p.join(",")).join(" ")).attr("fill","#000");
}
function inhibit(x1,x2,y,bar,b1,b2,w=5){E.append("line").attr("x1",x1).attr("x2",x2).attr("y1",y).attr("y2",y).attr("stroke","#000").attr("stroke-width",w);
 E.append("line").attr("x1",bar).attr("x2",bar).attr("y1",b1).attr("y2",b2).attr("stroke","#000").attr("stroke-width",2.5);}
arrow(419,2383,555,2383,5,"14 9");
E.append("circle").attr("cx",569.5).attr("cy",2383).attr("r",14.5).attr("fill","#fff").attr("stroke","#000").attr("stroke-width",4);
arrow(587,2383,744,2383);
inhibit(980,1095,2386,1038,2362,2421);
arrow(981,2430,1050,2520,3.5);
arrow(1286,2526,1365,2526);
inhibit(1586,1664,2526,1665.6,2494,2554);
inhibit(1910,1987,2526,1986.6,2493,2551);
arrow(2265,2513,2345,2513);
E.append("circle").attr("cx",2365).attr("cy",2510.6).attr("r",15).attr("fill","#fff").attr("stroke","#000").attr("stroke-width",4);
arrow(2389,2505.6,2487,2505.6);
arrow(2389,2520.5,2485.6,2585.6,3.5);
arrow(2786,2502.4,2867,2502.4,5,"14 8");
arrow(2786,2589,2867,2589,5,"14 8");
arrow(1787.5,2567.5,1787.5,2654.7,2,false,42,14);
const notePos=[[574,2464,"middle"],[979,2257,"middle"],[1029,2460,"middle"],[2366,2450,"middle"],[2892,2506,"start"],[2896,2593.5,"start"],[1800,2693,"middle"]];
pathNotes.forEach((s,i)=>txt(E,notePos[i][0],notePos[i][1],s,FS,notePos[i][2]));
</script></body></html>
